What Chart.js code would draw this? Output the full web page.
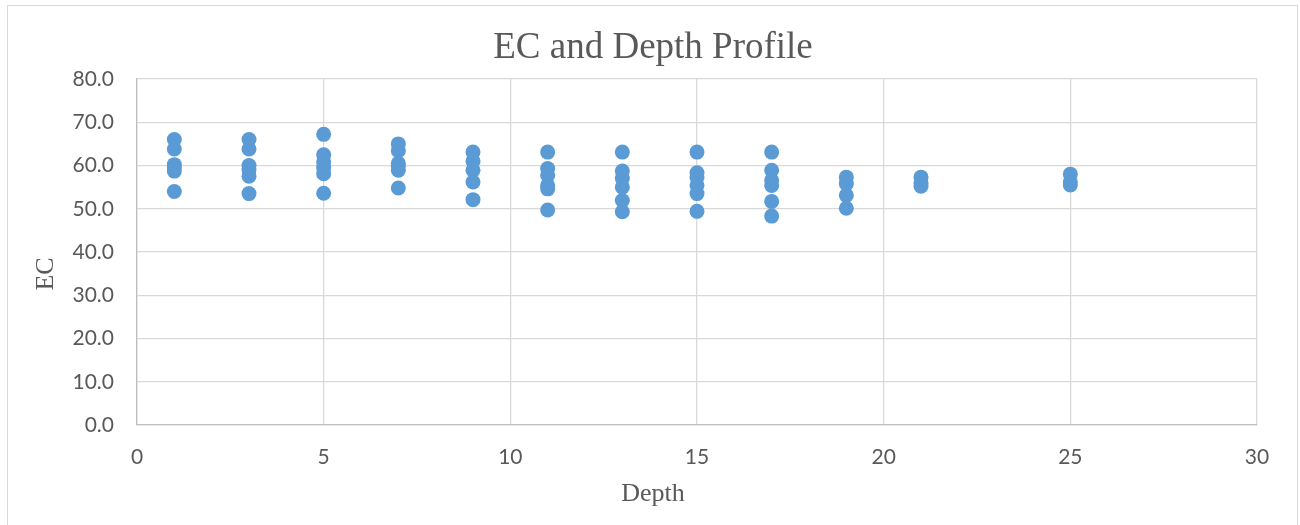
<!DOCTYPE html>
<html>
<head>
<meta charset="utf-8">
<script src="https://cdn.jsdelivr.net/npm/chart.js@4/dist/chart.umd.min.js"></script>
<style>
  html, body { margin: 0; padding: 0; background: #ffffff; }
  #wrap { width: 1300px; height: 525px; position: relative; }
</style>
</head>
<body>
<div id="wrap"><canvas id="c" width="1300" height="525"></canvas></div>
<script>
// ---- data ----
const chartTitle = "EC and Depth Profile";
const xAxisTitle = "Depth";
const yAxisTitle = "EC";

const depth1  = [66.0, 63.8, 60.2, 59.5, 58.7, 54.0];
const depth3  = [66.0, 63.8, 60.0, 59.0, 57.5, 53.5];
const depth5  = [67.2, 62.5, 60.8, 59.5, 58.1, 53.6];
const depth7  = [65.0, 63.4, 60.5, 59.8, 58.9, 54.8];
const depth9  = [63.1, 61.0, 58.9, 56.2, 52.1];
const depth11 = [63.1, 59.3, 57.7, 55.4, 54.6, 49.7];
const depth13 = [63.1, 58.7, 57.0, 55.0, 51.9, 49.3];
const depth15 = [63.1, 58.3, 57.3, 55.4, 53.5, 49.4];
const depth17 = [63.1, 58.9, 56.6, 55.4, 51.7, 48.3];
const depth19 = [57.3, 55.8, 53.1, 50.1];
const depth21 = [57.3, 55.8, 55.2];
const depth25 = [58.0, 56.2, 55.5];

const depths = [1, 3, 5, 7, 9, 11, 13, 15, 17, 19, 21, 25];
const ecByDepth = [depth1, depth3, depth5, depth7, depth9, depth11, depth13,
                   depth15, depth17, depth19, depth21, depth25];

// build scatter points from the arrays
const points = [];
depths.forEach((d, i) => ecByDepth[i].forEach(v => points.push({ x: d, y: v })));

const textColor = '#595959';
const serif = '"Liberation Serif", "Times New Roman", serif';

const frameAndTitles = {
  id: 'frameAndTitles',
  beforeDraw(chart) {
    const ctx = chart.ctx;
    ctx.save();
    ctx.fillStyle = '#ffffff';
    ctx.fillRect(0, 0, chart.width, chart.height);
    ctx.strokeStyle = '#d9d9d9';
    ctx.lineWidth = 1;
    ctx.strokeRect(7.5, 5.5, 1290, 600);
    ctx.restore();
  },
  afterDraw(chart) {
    const ctx = chart.ctx;
    ctx.save();
    ctx.fillStyle = textColor;
    ctx.textAlign = 'center';
    ctx.textBaseline = 'alphabetic';
    ctx.font = '37px ' + serif;
    ctx.fillText(chartTitle, 653, 58);
    ctx.font = '26px ' + serif;
    ctx.fillText(xAxisTitle, 653, 501);
    ctx.translate(53, 274);
    ctx.rotate(-Math.PI / 2);
    ctx.fillText(yAxisTitle, 0, 0);
    ctx.restore();
  }
};

new Chart(document.getElementById('c'), {
  type: 'scatter',
  data: {
    datasets: [{
      label: 'EC',
      data: points,
      backgroundColor: '#5B9BD5',
      borderColor: '#5B9BD5',
      borderWidth: 0,
      pointRadius: 7.5,
      pointHoverRadius: 7.5
    }]
  },
  options: {
    responsive: false,
    animation: false,
    devicePixelRatio: 1,
    layout: { padding: { left: 0, right: 43, top: 79, bottom: 0 } },
    plugins: {
      legend: { display: false },
      tooltip: { enabled: false },
      title: { display: false }
    },
    scales: {
      x: {
        type: 'linear',
        min: 0, max: 30,
        ticks: { stepSize: 5, color: textColor, padding: 20,
                 font: { family: 'Lato', size: 21 } },
        grid: { color: '#d9d9d9', lineWidth: 1.3, drawTicks: false },
        border: { color: '#bfbfbf', width: 1.3 },
        afterFit(scale) { scale.height = 100; }
      },
      y: {
        type: 'linear',
        min: 0, max: 80,
        ticks: { stepSize: 10, color: textColor, padding: 23,
                 font: { family: 'Lato', size: 21 },
                 callback: v => Number(v).toFixed(1) },
        grid: { color: '#d9d9d9', lineWidth: 1.3, drawTicks: false },
        border: { color: '#bfbfbf', width: 1.3 },
        afterFit(scale) { scale.width = 137; }
      }
    }
  },
  plugins: [frameAndTitles]
});
</script>
</body>
</html>
